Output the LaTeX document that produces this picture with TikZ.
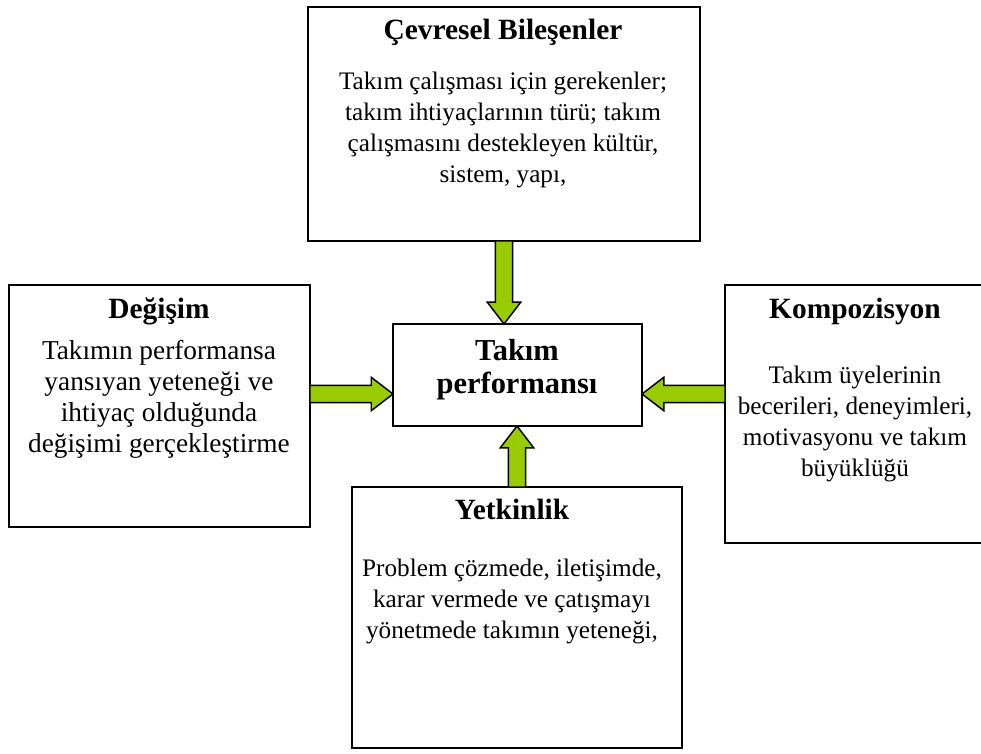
\documentclass[tikz,border=0pt]{standalone}
\usepackage{fontspec}
\setmainfont{Liberation Serif}
\usetikzlibrary{shapes.arrows, fit, calc}
\definecolor{arrowgreen}{RGB}{153,204,0}
\tikzset{
box/.style={draw, line width=1pt, inner sep=0pt, outer sep=0pt}, % plain frame
title/.style={font=\fontsize{14}{16}\selectfont\bfseries, inner sep=0pt}, % bold heading
body/.style={font=\fontsize{12}{14.76}\selectfont, align=center, inner sep=0pt},
fatarrow/.style={single arrow, draw=black, fill=arrowgreen, line width=0.7pt,
  inner sep=0pt, inner ysep=3.8pt, outer sep=0pt,
  single arrow head extend=3.8pt, single arrow tip angle=75}, % green block arrow
}
% block arrow from #2 (tail) to #3 (tip)
\newcommand{\blockarrow}[3]{%
  \path let \p1=(#2), \p2=(#3), \n1={atan2(\y2-\y1,\x2-\x1)},
    \n2={veclen(\x2-\x1,\y2-\y1)} in
    node[fatarrow, minimum height=\n2, rotate=\n1, anchor=tail] (#1) at (\p1) {};}

\begin{document}
\begin{tikzpicture}[x=0.476pt, y=-0.476pt]
\useasboundingbox (0,0) rectangle (981,754);
% frames
\node[box, fit={(308,7) (700,241)}] (env) {};
\node[box, fit={(9,285) (310,527)}] (chg) {};
\node[box, fit={(393,324) (642,426)}] (perf) {};
\node[box, draw=none, fit={(725,285) (981,543)}] (comp) {};
\draw[line width=1pt] (comp.north east) -- (comp.north west) -- (comp.south west) -- (comp.south east);
\node[box, fit={(352,487) (682,748)}] (skill) {};
% texts
\node[title] (envT) at (503,32) {Çevresel Bileşenler};
\node[body] (envB) at (503,130) {Takım çalışması için gerekenler;\\ takım ihtiyaçlarının türü; takım\\ çalışmasını destekleyen kültür,\\ sistem, yapı,};
\node[title] (chgT) at (159,311) {Değişim};
\node[body, font=\fontsize{13}{14.76}\selectfont] (chgB) at (159,399) {Takımın performansa\\ yansıyan yeteneği ve\\ ihtiyaç olduğunda\\ değişimi gerçekleştirme};
\node[title, align=center, font=\fontsize{14.5}{15.7}\selectfont\bfseries] (perfT) at (517,370) {Takım\\ performansı};
\node[title] (compT) at (855,311) {Kompozisyon};
\node[body] (compB) at (855,424) {Takım üyelerinin\\ becerileri, deneyimleri,\\ motivasyonu ve takım\\ büyüklüğü};
\node[title] (skillT) at (512,509) {Yetkinlik};
\node[body] (skillB) at (512,601) {Problem çözmede, iletişimde,\\ karar vermede ve çatışmayı\\ yönetmede takımın yeteneği,};
% arrows
\coordinate (lvl) at (0,394);
\blockarrow{a1}{env.south}{env.south |- perf.north}
\blockarrow{a2}{chg.east |- lvl}{perf.west |- lvl}
\blockarrow{a3}{comp.west |- lvl}{perf.east |- lvl}
\blockarrow{a4}{skill.north}{skill.north |- perf.south}
\end{tikzpicture}
\end{document}
